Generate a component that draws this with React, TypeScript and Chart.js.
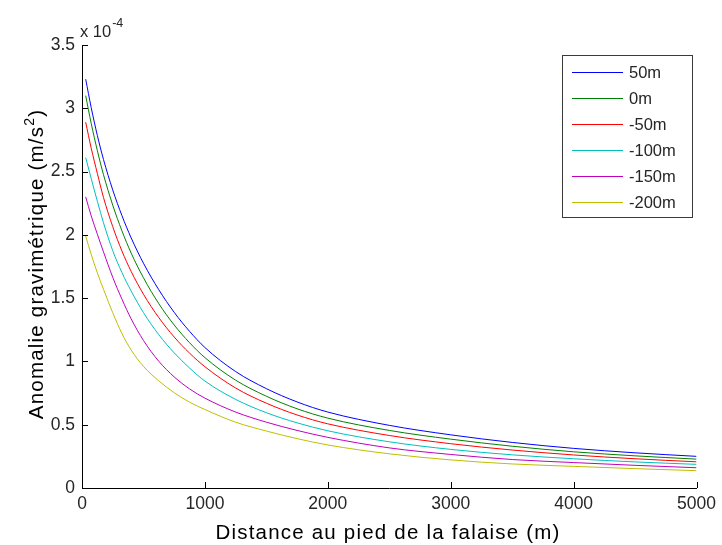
import { useEffect, useRef } from 'react';
import { Chart, registerables } from 'chart.js';

Chart.register(...registerables);

// Distance from the foot of the cliff (m)
const distances = [30, 75, 125, 175, 250, 325, 400, 500, 625, 750, 875, 1000, 1250, 1500, 1750, 2000, 2500, 3000, 3500, 4000, 4500, 5000];

// Gravity anomaly, in units of 1e-4 m/s^2 (axis multiplier "x 10^-4")
const anomalyPlus50 = [3.23, 3.005, 2.785, 2.595, 2.355, 2.152, 1.976, 1.776, 1.566, 1.388, 1.238, 1.11, 0.92, 0.785, 0.68, 0.6, 0.495, 0.42, 0.36, 0.313, 0.278, 0.25];
const anomalyZero = [3.1, 2.88, 2.665, 2.475, 2.235, 2.032, 1.856, 1.661, 1.456, 1.288, 1.148, 1.03, 0.852, 0.725, 0.626, 0.552, 0.455, 0.386, 0.33, 0.286, 0.254, 0.228];
const anomalyMinus50 = [2.89, 2.685, 2.485, 2.295, 2.065, 1.872, 1.711, 1.531, 1.346, 1.193, 1.066, 0.958, 0.79, 0.67, 0.577, 0.507, 0.415, 0.35, 0.3, 0.261, 0.231, 0.207];
const anomalyMinus100 = [2.61, 2.445, 2.265, 2.095, 1.875, 1.702, 1.556, 1.386, 1.211, 1.068, 0.948, 0.845, 0.7, 0.595, 0.515, 0.452, 0.365, 0.305, 0.262, 0.231, 0.206, 0.187];
const anomalyMinus150 = [2.3, 2.15, 2.005, 1.865, 1.665, 1.492, 1.336, 1.166, 1.001, 0.878, 0.783, 0.71, 0.6, 0.52, 0.455, 0.4, 0.317, 0.265, 0.225, 0.201, 0.179, 0.16];
const anomalyMinus200 = [1.99, 1.845, 1.7, 1.57, 1.385, 1.22, 1.09, 0.961, 0.846, 0.753, 0.678, 0.62, 0.52, 0.45, 0.39, 0.34, 0.27, 0.222, 0.19, 0.171, 0.153, 0.137];

const seriesLabels = ['50m', '0m', '-50m', '-100m', '-150m', '-200m'];
const seriesValues = [anomalyPlus50, anomalyZero, anomalyMinus50, anomalyMinus100, anomalyMinus150, anomalyMinus200];
const seriesColors = ['#0000ff', '#008000', '#ff0000', '#00bfbf', '#bf00bf', '#bfbf00'];

const xTitle = 'Distance au pied de la falaise (m)';
const yTitleMain = 'Anomalie gravimétrique (m/s';
const yTitleSup = '2';
const yTitleEnd = ')';
const multiplierBase = 'x 10';
const multiplierExp = '-4';

const FONT = "'Liberation Sans', Arial, Helvetica, sans-serif";
const TEXT = '#262626';

const decorPlugin = {
  id: 'matlabDecor',
  afterDatasetsDraw(chart: any) {
    const { ctx, chartArea, scales } = chart;
    const xs = scales.x;
    const ys = scales.y;
    ctx.save();
    // inward tick marks
    ctx.strokeStyle = '#000';
    ctx.lineWidth = 1;
    ctx.beginPath();
    ys.ticks.forEach((t: any) => {
      const py = Math.round(ys.getPixelForValue(t.value)) + 0.5;
      ctx.moveTo(chartArea.left, py);
      ctx.lineTo(chartArea.left + 6, py);
    });
    xs.ticks.forEach((t: any) => {
      const px = Math.round(xs.getPixelForValue(t.value)) + 0.5;
      ctx.moveTo(px, chartArea.bottom);
      ctx.lineTo(px, chartArea.bottom - 6);
    });
    ctx.stroke();

    // legend box
    const lx = 562.5, ly = 55.5, lw = 130, lh = 162;
    ctx.fillStyle = '#fff';
    ctx.fillRect(lx, ly, lw, lh);
    ctx.strokeStyle = '#3a3a3a';
    ctx.strokeRect(lx, ly, lw, lh);
    ctx.font = `16.5px ${FONT}`;
    ctx.textBaseline = 'middle';
    ctx.textAlign = 'left';
    chart.data.datasets.forEach((ds: any, i: number) => {
      const y = 72 + i * 26;
      ctx.strokeStyle = ds.borderColor;
      ctx.beginPath();
      ctx.moveTo(572, Math.round(y) + 0.5);
      ctx.lineTo(623, Math.round(y) + 0.5);
      ctx.stroke();
      ctx.fillStyle = TEXT;
      ctx.fillText(ds.label, 629, y + 1);
    });

    // multiplier
    ctx.fillStyle = TEXT;
    ctx.textBaseline = 'alphabetic';
    ctx.font = `16.5px ${FONT}`;
    ctx.fillText(multiplierBase, 80, 37);
    const bw = ctx.measureText(multiplierBase).width;
    ctx.font = `12.5px ${FONT}`;
    ctx.fillText(multiplierExp, 80 + bw + 1, 27);

    // axis titles
    (ctx as any).letterSpacing = '1.2px';
    ctx.font = `20.5px ${FONT}`;
    ctx.fillStyle = '#000';
    ctx.textAlign = 'center';
    ctx.fillText(xTitle, 388, 539);

    ctx.translate(43, 264);
    ctx.rotate(-Math.PI / 2);
    ctx.textAlign = 'left';
    ctx.font = `20.5px ${FONT}`;
    const w1 = ctx.measureText(yTitleMain).width;
    ctx.font = `14px ${FONT}`;
    const w2 = ctx.measureText(yTitleSup).width;
    ctx.font = `20.5px ${FONT}`;
    const w3 = ctx.measureText(yTitleEnd).width;
    const total = w1 + w2 + w3;
    let sx = -total / 2;
    ctx.fillText(yTitleMain, sx, 0);
    sx += w1;
    ctx.font = `14px ${FONT}`;
    ctx.fillText(yTitleSup, sx, -9);
    sx += w2;
    ctx.font = `20.5px ${FONT}`;
    ctx.fillText(yTitleEnd, sx, 0);
    ctx.restore();
  },
};

export default function App() {
  const canvasRef = useRef<HTMLCanvasElement | null>(null);

  useEffect(() => {
    const canvas = canvasRef.current;
    if (!canvas) return;
    const chart = new Chart(canvas, {
      type: 'line',
      data: {
        datasets: seriesValues.map((vals, i) => ({
          label: seriesLabels[i],
          data: distances.map((d, j) => ({ x: d, y: vals[j] })),
          borderColor: seriesColors[i],
          backgroundColor: seriesColors[i],
          borderWidth: 1,
          pointRadius: 0,
          cubicInterpolationMode: 'monotone' as const,
          fill: false,
        })),
      },
      options: {
        animation: false,
        responsive: false,
        devicePixelRatio: 1,
        layout: { padding: { top: 45, right: 24, left: 0, bottom: 0 } },
        plugins: {
          legend: { display: false },
          tooltip: { enabled: false },
          title: { display: false },
        },
        scales: {
          x: {
            type: 'linear',
            min: 0,
            max: 5000,
            grid: { display: false, drawTicks: false },
            border: { display: true, color: '#000', width: 1 },
            ticks: {
              stepSize: 1000,
              padding: 6,
              color: TEXT,
              font: { family: FONT, size: 17.5 },
              maxRotation: 0,
              callback: (v: any) => String(v),
            },
            afterFit: (scale: any) => {
              scale.height = 57;
            },
          },
          y: {
            type: 'linear',
            min: 0,
            max: 3.5,
            grid: { display: false, drawTicks: false },
            border: { display: true, color: '#000', width: 1 },
            ticks: {
              stepSize: 0.5,
              padding: 7,
              color: TEXT,
              font: { family: FONT, size: 17.5 },
              callback: (v: any) => String(v),
            },
            afterFit: (scale: any) => {
              scale.width = 82;
            },
          },
        },
      },
      plugins: [decorPlugin],
    });
    return () => chart.destroy();
  }, []);

  return (
    <div style={{ position: 'absolute', left: 0, top: 0, width: 722, height: 545, background: '#fff' }}>
      <canvas ref={canvasRef} width={722} height={545} style={{ width: 722, height: 545, display: 'block' }} />
    </div>
  );
}
